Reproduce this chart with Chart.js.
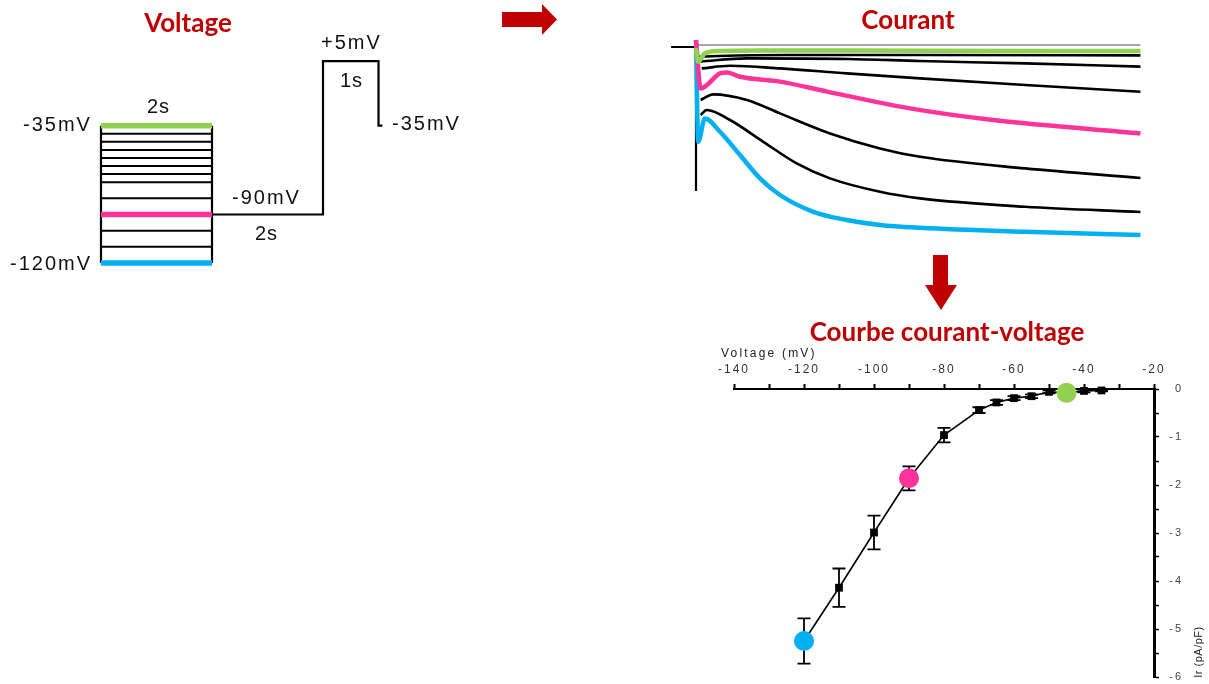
<!DOCTYPE html>
<html lang="fr">
<head>
<meta charset="utf-8">
<title>Courbe courant-voltage</title>
<script src="https://cdn.jsdelivr.net/npm/chart.js@4.4.0/dist/chart.umd.min.js"></script>
<style>
  html, body { margin: 0; padding: 0; background: #fff; }
  body { width: 1209px; height: 684px; position: relative; overflow: hidden; font-family: "Liberation Sans", Arial, sans-serif; }
  canvas { position: absolute; }
  .title { position: absolute; font-family: Lato, "Open Sans", sans-serif; font-weight: 700; font-size: 26px; color: #C00000; transform: translate(-50%, -50%); white-space: nowrap; line-height: 1; }
  .lbl { position: absolute; font-size: 20px; letter-spacing: 2px; color: #111; white-space: nowrap; transform: translateY(-50%); line-height: 1; }
  .small { position: absolute; font-size: 12px; letter-spacing: 2.2px; color: #222; white-space: nowrap; line-height: 1; }
  svg { position: absolute; left: 0; top: 0; }
</style>
</head>
<body>

<canvas id="voltageChart" width="299" height="218" style="left:91px;top:53px"></canvas>
<canvas id="currentChart" width="474" height="216" style="left:671px;top:35px"></canvas>
<canvas id="ivChart" width="509" height="347" style="left:700px;top:340px"></canvas>

<svg width="1209" height="684">
  <polygon points="502,12 542,12 542,4 557,19.5 542,35 542,27 502,27" fill="#C00000"/>
  <polygon points="933,255 948,255 948,285 957,285 941,310 925,285 933,285" fill="#C00000"/>
</svg>

<div class="title" style="left:188px;top:22px">Voltage</div>
<div class="title" style="left:908px;top:19px">Courant</div>
<div class="title" style="left:947px;top:331px">Courbe courant-voltage</div>

<div class="lbl" style="left:147px;top:106px;letter-spacing:1px">2s</div>
<div class="lbl" style="left:23px;top:124px">-35mV</div>
<div class="lbl" style="left:10px;top:263px">-120mV</div>
<div class="lbl" style="left:232px;top:197px">-90mV</div>
<div class="lbl" style="left:255px;top:233px;letter-spacing:1px">2s</div>
<div class="lbl" style="left:321px;top:42px">+5mV</div>
<div class="lbl" style="left:340px;top:80px;letter-spacing:1px">1s</div>
<div class="lbl" style="left:392px;top:123px">-35mV</div>

<div class="small" style="left:721px;top:347px">Voltage (mV)</div>
<div class="small" style="left:1198px;top:652px;letter-spacing:0.5px;font-size:11px;transform:translate(-50%,-50%) rotate(-90deg)">Ir (pA/pF)</div>

<script>
// Protocole de voltage (s, mV)
const stepLevels = [-35, -40, -45, -50, -55, -60, -65, -70, -80, -90, -100, -110, -120];
const stepTimes = [0, 2];
const holdTimes = [2, 4, 5, 5.07];
const holdVolts = [-90, 5, -35, -35];

// Traces de courant (ms, nA)
const baseTrace = [[-112, 0], [0, 0], [0, -7.2]];
const topTrace = [[4, 0.1], [2000, 0.1]];
const greenTrace = [[0, -0.05], [9, -0.74], [40, -0.32], [108, -0.2], [288, -0.17], [1000, -0.19], [2000, -0.2]];
const traceB = [[6, -0.49], [100, -0.45], [400, -0.4], [1000, -0.4], [2000, -0.42]];
const traceC = [[18, -0.73], [229, -0.57], [680, -0.6], [1008, -0.7], [1481, -0.82], [2000, -0.98]];
const traceD = [[26, -1.07], [153, -0.94], [378, -1.07], [678, -1.32], [1008, -1.57], [1481, -1.9], [2000, -2.24]];
const pinkTrace = [[0, 0.35], [21, -2.07], [108, -1.32], [140, -1.27], [198, -1.49], [378, -1.73], [590, -2.23], [963, -3.07], [1337, -3.65], [2000, -4.32]];
const traceE = [[21, -2.65], [78, -2.37], [229, -2.65], [378, -3.32], [603, -4.32], [828, -5.07], [1008, -5.49], [1481, -6.07], [2000, -6.55]];
const traceF = [[21, -3.4], [48, -3.15], [153, -3.65], [303, -4.74], [453, -5.82], [603, -6.57], [828, -7.24], [1008, -7.57], [1481, -7.99], [2000, -8.25]];
const blueTrace = [[0, 0.35], [10, -4.74], [40, -3.57], [108, -4.24], [198, -5.4], [288, -6.57], [378, -7.4], [528, -8.24], [678, -8.65], [828, -8.9], [1008, -9.04], [1481, -9.24], [2000, -9.4]];

// Courbe I-V
const ivVoltages = [-120, -110, -100, -90, -80, -70, -65, -60, -55, -50, -45, -40, -35];
const ivCurrents = [-5.25, -4.14, -2.99, -1.86, -0.96, -0.44, -0.28, -0.19, -0.15, -0.06, -0.08, -0.04, -0.03];
const ivErrors = [0.47, 0.40, 0.35, 0.25, 0.15, 0.06, 0.05, 0.04, 0.04, 0.03, 0.03, 0.03, 0.02];
const ivXRange = [-140, -20];
const ivYRange = [-6, 0];

const GREEN = '#92D050', PINK = '#FF3399', BLUE = '#00B0F0';
const levelColors = { '-35': GREEN, '-90': PINK, '-120': BLUE };
const ivHighlight = { '-120': BLUE, '-90': PINK, '-45': GREEN };

const toPoints = (pairs) => pairs.map(([x, y]) => ({ x, y }));
const bare = {
  responsive: false,
  animation: false,
  events: [],
  plugins: { legend: { display: false }, tooltip: { enabled: false } }
};

// Panneau voltage
const vSets = stepLevels.map((v) => ({
  data: stepTimes.map((t) => ({ x: t, y: v })),
  borderColor: levelColors[v] || '#000',
  borderWidth: levelColors[v] ? 5.5 : 2,
  order: levelColors[v] ? 0 : 1
}));
const lo = Math.min(...stepLevels), hi = Math.max(...stepLevels);
stepTimes.forEach((t) => {
  vSets.push({ data: [{ x: t, y: hi }, { x: t, y: lo }], borderColor: '#000', borderWidth: 2.2, order: 2 });
});
vSets.push({
  data: holdTimes.map((t, i) => ({ x: t, y: holdVolts[i] })),
  borderColor: '#000', borderWidth: 2.2, stepped: true, order: 2
});

new Chart(document.getElementById('voltageChart'), {
  type: 'line',
  data: { datasets: vSets },
  options: {
    ...bare,
    elements: { point: { radius: 0 } },
    scales: {
      x: { type: 'linear', display: false, min: -0.18, max: 5.207 },
      y: { display: false, min: -125, max: 10 }
    }
  }
});

// Panneau courant
const traces = [
  { data: topTrace, color: '#8a8a8a', width: 1.4, order: 3 },
  { data: baseTrace, color: '#000', width: 2.2, order: 1 },
  { data: traceB, color: '#000', width: 2.6, order: 1 },
  { data: traceC, color: '#000', width: 2.6, order: 1 },
  { data: traceD, color: '#000', width: 2.6, order: 1 },
  { data: traceE, color: '#000', width: 2.6, order: 1 },
  { data: traceF, color: '#000', width: 2.6, order: 1 },
  { data: greenTrace, color: GREEN, width: 4.5, order: 0 },
  { data: pinkTrace, color: PINK, width: 4.5, order: 0 },
  { data: blueTrace, color: BLUE, width: 4.5, order: 0 }
];

new Chart(document.getElementById('currentChart'), {
  type: 'line',
  data: {
    datasets: traces.map((tr) => ({
      data: toPoints(tr.data),
      borderColor: tr.color,
      borderWidth: tr.width,
      order: tr.order,
      cubicInterpolationMode: tr.data === baseTrace ? 'default' : 'monotone',
      tension: 0
    }))
  },
  options: {
    ...bare,
    elements: { point: { radius: 0 } },
    scales: {
      x: { type: 'linear', display: false, min: -112.5, max: 2020.5 },
      y: { display: false, min: -10.2, max: 0.6 }
    }
  }
});

// Barres d'erreur sous les points
const errorBars = {
  id: 'errorBars',
  beforeDatasetsDraw(chart) {
    const { ctx, scales: { x, y } } = chart;
    ctx.save();
    ctx.strokeStyle = '#000';
    ctx.lineWidth = 1.8;
    ivVoltages.forEach((v, i) => {
      const px = x.getPixelForValue(v);
      const top = y.getPixelForValue(ivCurrents[i] + ivErrors[i]);
      const bot = y.getPixelForValue(ivCurrents[i] - ivErrors[i]);
      ctx.beginPath();
      ctx.moveTo(px, top); ctx.lineTo(px, bot);
      ctx.moveTo(px - 6.5, top); ctx.lineTo(px + 6.5, top);
      ctx.moveTo(px - 6.5, bot); ctx.lineTo(px + 6.5, bot);
      ctx.stroke();
    });
    ctx.restore();
  }
};
const spacing = {
  id: 'spacing',
  beforeDraw(chart) { chart.ctx.letterSpacing = '2px'; }
};

const pick = (ctx, a, b) => (ivHighlight[ivVoltages[ctx.dataIndex]] ? a : b);

new Chart(document.getElementById('ivChart'), {
  type: 'line',
  data: {
    datasets: [{
      data: ivVoltages.map((v, i) => ({ x: v, y: ivCurrents[i] })),
      borderColor: '#000',
      borderWidth: 1.6,
      tension: 0,
      clip: false,
      pointStyle: (ctx) => pick(ctx, 'circle', 'rect'),
      pointRadius: (ctx) => pick(ctx, 10, 5.5),
      pointBackgroundColor: (ctx) => ivHighlight[ivVoltages[ctx.dataIndex]] || '#000',
      pointBorderWidth: 0
    }]
  },
  options: {
    ...bare,
    layout: { padding: { left: 34, top: 19, right: 26, bottom: 0 } },
    scales: {
      x: {
        type: 'linear', position: 'top', min: ivXRange[0], max: ivXRange[1],
        ticks: {
          stepSize: 10, autoSkip: false, maxRotation: 0, padding: 7, color: '#333',
          font: { family: 'Liberation Sans', size: 12 },
          callback: (v) => (v % 20 === 0 ? String(v) : '')
        },
        grid: { drawOnChartArea: false, tickLength: 5, tickColor: '#000', tickWidth: 2 },
        border: { color: '#000', width: 2 },
        afterFit: (s) => { s.height = 30; }
      },
      y: {
        position: 'right', min: ivYRange[0], max: ivYRange[1],
        ticks: {
          stepSize: 0.5, autoSkip: false, padding: 0, crossAlign: 'far', color: '#444',
          font: { family: 'Liberation Sans', size: 11 },
          callback: (v) => (Number.isInteger(v) ? String(v) : '')
        },
        grid: { drawOnChartArea: false, tickLength: 5, tickColor: '#000', tickWidth: 1.5 },
        border: { color: '#000', width: 3 },
        afterFit: (s) => { s.width = 29; }
      }
    }
  },
  plugins: [errorBars, spacing]
});
</script>
</body>
</html>
